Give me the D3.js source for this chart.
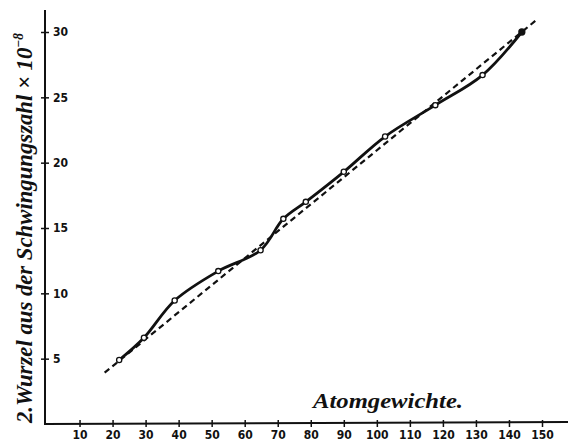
<!DOCTYPE html>
<html>
<head>
<meta charset="utf-8">
<script src="https://cdnjs.cloudflare.com/ajax/libs/d3/7.8.5/d3.min.js"></script>
<style>
  body { margin: 0; background: #fff; }
  .tick text { font-family: "Liberation Sans Narrow", "DejaVu Sans Condensed", sans-serif; font-weight: bold; font-size: 12px; fill: #111; }
  .tick line { stroke: #111; stroke-width: 1.5px; }
  .title { font-family: "Liberation Serif", serif; font-weight: bold; font-style: italic; fill: #111; }
</style>
</head>
<body>
<svg width="571" height="443"></svg>
<script>
// measured points (atomic weight, root of frequency x 10^-8)
var atomWeights = [22, 29.5, 38.8, 52, 64.8, 71.7, 78.5, 90, 102.5, 117.7, 132, 143.9];
var rootFreq    = [4.9, 6.6, 9.45, 11.7, 13.3, 15.7, 17.0, 19.3, 22.0, 24.4, 26.7, 30.0];
// straight dashed line
var lineX = [17.6, 148.7];
var lineY = [3.93, 31.0];
// axis ticks
var xTicks = [10, 20, 30, 40, 50, 60, 70, 80, 90, 100, 110, 120, 130, 140, 150];
var yTicks = [5, 10, 15, 20, 25, 30];

var svg = d3.select('svg');

var x = d3.scaleLinear().domain([0, 150]).range([46.5, 542]);
var y = d3.scaleLinear().domain([0, 30]).range([424, 32]);

// axes lines
svg.append('line')
  .attr('x1', 45).attr('x2', 45)
  .attr('y1', y(0) + 1).attr('y2', 10)
  .attr('stroke', '#111').attr('stroke-width', 2);
svg.append('line')
  .attr('x1', 45).attr('x2', 568)
  .attr('y1', y(0)).attr('y2', y(0) - 2)
  .attr('stroke', '#111').attr('stroke-width', 2);

var xAxis = svg.append('g')
  .attr('transform', 'translate(0,' + y(0) + ')')
  .call(d3.axisBottom(x).tickValues(xTicks).tickSize(4).tickPadding(2));
xAxis.select('.domain').remove();
xAxis.selectAll('.tick line').attr('y1', -4).attr('y2', 3);

var yAxis = svg.append('g')
  .attr('transform', 'translate(45,0)')
  .call(d3.axisRight(y).tickValues(yTicks).tickSize(4).tickPadding(4));
yAxis.select('.domain').remove();
yAxis.selectAll('.tick line').attr('x1', -4).attr('x2', 4);
yAxis.selectAll('.tick text').attr('font-size', '13px');

// dashed straight line
var trend = lineX.map(function(d, i) { return [d, lineY[i]]; });
svg.append('path')
  .datum(trend)
  .attr('d', d3.line().x(function(d) { return x(d[0]); }).y(function(d) { return y(d[1]); }))
  .attr('fill', 'none')
  .attr('stroke', '#111')
  .attr('stroke-width', 2.2)
  .attr('stroke-dasharray', '6,4');

// solid curve through points
var pts = atomWeights.map(function(d, i) { return [d, rootFreq[i]]; });
svg.append('path')
  .datum(pts)
  .attr('d', d3.line().curve(d3.curveCatmullRom.alpha(0.5))
    .x(function(d) { return x(d[0]); }).y(function(d) { return y(d[1]); }))
  .attr('fill', 'none')
  .attr('stroke', '#111')
  .attr('stroke-width', 2.8)
  .attr('stroke-linecap', 'round');

svg.selectAll('circle.pt')
  .data(pts)
  .enter().append('circle')
  .attr('class', 'pt')
  .attr('cx', function(d) { return x(d[0]); })
  .attr('cy', function(d) { return y(d[1]); })
  .attr('r', function(d, i) { return i == pts.length - 1 ? 3 : 2.6; })
  .attr('fill', function(d, i) { return i == pts.length - 1 ? '#111' : '#fff'; })
  .attr('stroke', '#111')
  .attr('stroke-width', 1.3);

// titles
svg.append('text')
  .attr('class', 'title')
  .attr('x', 313).attr('y', 408)
  .attr('font-size', '22px')
  .attr('textLength', 150)
  .attr('lengthAdjust', 'spacingAndGlyphs')
  .text('Atomgewichte.');

var yl = svg.append('text')
  .attr('class', 'title')
  .attr('transform', 'translate(32,423) rotate(-90)')
  .attr('font-size', '24px')
  .attr('textLength', 390)
  .attr('lengthAdjust', 'spacingAndGlyphs');
yl.append('tspan').text('2.Wurzel aus der Schwingungszahl × 10');
yl.append('tspan').attr('dy', -9).attr('font-size', '14px').text('−8');
</script>
</body>
</html>
